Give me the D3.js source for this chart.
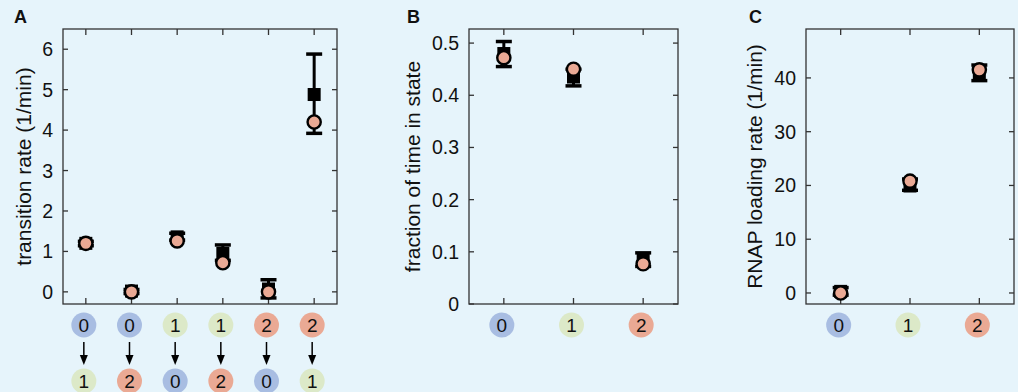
<!DOCTYPE html>
<html lang="en">
<head>
<meta charset="UTF-8">
<title>Transition rates, state occupancy and loading rates</title>
<script src="https://d3js.org/d3.v7.min.js"></script>
<style>
  body { margin: 0; background: #e6f4fb; }
  svg { display: block; font-family: "Liberation Sans", Arial, sans-serif; }
  .axis-box { fill: none; stroke: #333; stroke-width: 1.3; }
  .tick-line { stroke: #333; stroke-width: 1.3; }
  .tick-label { font-size: 19.5px; fill: #111; }
  .y-title { font-size: 21px; fill: #111; }
  .panel-label { font-size: 18px; font-weight: bold; fill: #111; }
  .state-text { font-size: 19px; fill: #111; }
</style>
</head>
<body>
<div id="chart"></div>
<script>
// state colours
const stateColor = ["#a8bde2", "#dce9c8", "#eaa994"];

// panel A: transitions between states
const transFrom = [0, 0, 1, 1, 2, 2];
const transTo = [1, 2, 0, 2, 0, 1];
const rateModel = [1.2, 0.0, 1.26, 0.72, 0.0, 4.2];
const rateData = [1.2, 0.02, 1.36, 0.95, 0.07, 4.88];
const rateLo = [1.14, -0.04, 1.28, 0.78, -0.15, 3.92];
const rateHi = [1.25, 0.06, 1.45, 1.16, 0.3, 5.88];
const rateTicks = [0, 1, 2, 3, 4, 5, 6];

// panel B: fraction of time in each state
const states = [0, 1, 2];
const fracModel = [0.472, 0.45, 0.077];
const fracData = [0.48, 0.435, 0.085];
const fracLo = [0.455, 0.418, 0.072];
const fracHi = [0.503, 0.45, 0.098];
const fracTicks = [0, 0.1, 0.2, 0.3, 0.4, 0.5];

// panel C: RNAP loading rate per state
const loadModel = [0, 20.8, 41.5];
const loadData = [0.3, 19.9, 40.7];
const loadLo = [-0.4, 19.1, 39.5];
const loadHi = [1.0, 21.2, 42.4];
const loadTicks = [0, 10, 20, 30, 40];

const W = 1018, H = 392;
const plotTop = 29, plotBottom = 304;

const svg = d3.select("#chart").append("svg")
    .attr("width", W)
    .attr("height", H);

function drawPanel(opt) {
    const n = opt.model.length;
    const x = d3.scaleLinear().domain([0.5, n + 0.5]).range([opt.left, opt.right]);
    const y = d3.scaleLinear().domain(opt.yDomain).range([plotBottom, plotTop]);
    const g = svg.append("g");

    // frame
    g.append("rect").attr("class", "axis-box")
        .attr("x", opt.left).attr("y", plotTop)
        .attr("width", opt.right - opt.left).attr("height", plotBottom - plotTop);

    // y ticks on both sides, pointing in
    opt.yTicks.forEach(t => {
        g.append("line").attr("class", "tick-line")
            .attr("x1", opt.left).attr("x2", opt.left + 5)
            .attr("y1", y(t)).attr("y2", y(t));
        g.append("line").attr("class", "tick-line")
            .attr("x1", opt.right).attr("x2", opt.right - 5)
            .attr("y1", y(t)).attr("y2", y(t));
        g.append("text").attr("class", "tick-label")
            .attr("x", opt.left - 10).attr("y", y(t))
            .attr("text-anchor", "end").attr("dy", "0.36em")
            .text(opt.fmt(t));
    });

    // x ticks top and bottom
    d3.range(1, n + 1).forEach(i => {
        g.append("line").attr("class", "tick-line")
            .attr("x1", x(i)).attr("x2", x(i))
            .attr("y1", plotTop).attr("y2", plotTop + 6);
        g.append("line").attr("class", "tick-line")
            .attr("x1", x(i)).attr("x2", x(i))
            .attr("y1", plotBottom).attr("y2", plotBottom - 6);
    });

    // y title
    const midY = (plotTop + plotBottom) / 2;
    g.append("text").attr("class", "y-title")
        .attr("transform", "translate(" + opt.titleX + "," + midY + ") rotate(-90)")
        .attr("text-anchor", "middle").attr("dy", "0.35em")
        .text(opt.title);

    // panel letter
    g.append("text").attr("class", "panel-label")
        .attr("x", opt.letterX).attr("y", 23)
        .text(opt.letter);

    // error bars
    const pts = d3.range(n);
    const capW = 8;
    pts.forEach(i => {
        const cx = x(i + 1);
        g.append("line").attr("stroke", "#000").attr("stroke-width", 3)
            .attr("x1", cx).attr("x2", cx)
            .attr("y1", y(opt.lo[i])).attr("y2", y(opt.hi[i]));
        [opt.lo[i], opt.hi[i]].forEach(v => {
            g.append("line").attr("stroke", "#000").attr("stroke-width", 3.5)
                .attr("x1", cx - capW).attr("x2", cx + capW)
                .attr("y1", y(v)).attr("y2", y(v));
        });
    });

    // data squares
    g.selectAll(".sq").data(pts).enter().append("rect")
        .attr("x", i => x(i + 1) - 6.5)
        .attr("y", i => y(opt.data[i]) - 6.5)
        .attr("width", 13).attr("height", 13)
        .attr("fill", "#000");

    // model circles
    g.selectAll(".mc").data(pts).enter().append("circle")
        .attr("cx", i => x(i + 1))
        .attr("cy", i => y(opt.model[i]))
        .attr("r", 6.6)
        .attr("fill", "#eaa994")
        .attr("stroke", "#000")
        .attr("stroke-width", 2.4);

    // state badges under the axis
    opt.fromStates.forEach((s, i) => {
        const cx = x(i + 1) - 2;
        drawBadge(g, cx, 325, s);
        if (opt.toStates) {
            g.append("line").attr("stroke", "#000").attr("stroke-width", 1.5)
                .attr("x1", cx).attr("x2", cx)
                .attr("y1", 342).attr("y2", 356);
            g.append("path").attr("fill", "#000")
                .attr("d", "M" + (cx - 4) + ",355 L" + (cx + 4) + ",355 L" + cx + ",365 Z");
            drawBadge(g, cx, 381, opt.toStates[i]);
        }
    });
}

function drawBadge(g, cx, cy, s) {
    g.append("circle").attr("cx", cx).attr("cy", cy).attr("r", 12.5)
        .attr("fill", stateColor[s]);
    g.append("text").attr("class", "state-text")
        .attr("x", cx).attr("y", cy).attr("dy", "0.36em")
        .attr("text-anchor", "middle").text(s);
}

drawPanel({
    letter: "A", letterX: 14,
    left: 63, right: 337,
    yDomain: [-0.3, 6.5], yTicks: rateTicks, fmt: d3.format("d"),
    title: "transition rate (1/min)", titleX: 24,
    model: rateModel, data: rateData, lo: rateLo, hi: rateHi,
    fromStates: transFrom, toStates: transTo
});

drawPanel({
    letter: "B", letterX: 407,
    left: 469, right: 678,
    yDomain: [0, 0.527], yTicks: fracTicks, fmt: d => d === 0 ? "0" : d3.format(".1f")(d),
    title: "fraction of time in state", titleX: 413,
    model: fracModel, data: fracData, lo: fracLo, hi: fracHi,
    fromStates: states, toStates: null
});

drawPanel({
    letter: "C", letterX: 749,
    left: 806, right: 1014,
    yDomain: [-2.05, 49.1], yTicks: loadTicks, fmt: d3.format("d"),
    title: "RNAP loading rate (1/min)", titleX: 755,
    model: loadModel, data: loadData, lo: loadLo, hi: loadHi,
    fromStates: states, toStates: null
});
</script>
</body>
</html>
